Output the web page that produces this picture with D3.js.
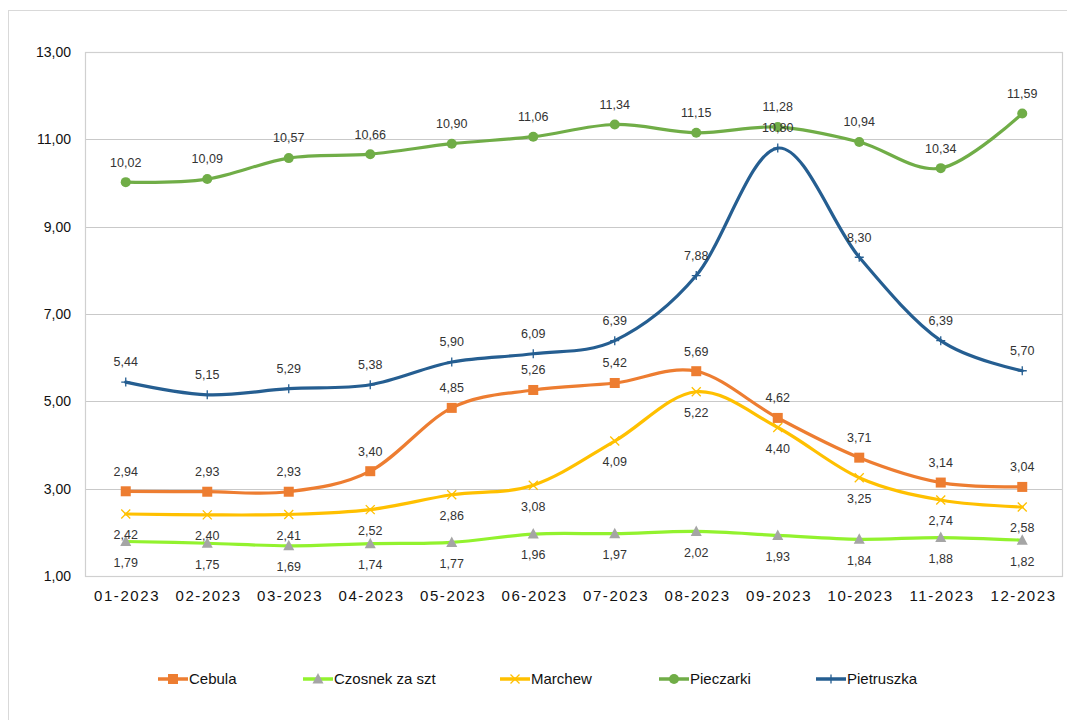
<!DOCTYPE html>
<html><head><meta charset="utf-8">
<script src="https://cdn.jsdelivr.net/npm/d3@7"></script>
<style>body{margin:0;background:#fff}svg{display:block}</style>
</head><body>
<svg id="c" width="1067" height="720"></svg>
<script>
const categories = ["01-2023","02-2023","03-2023","04-2023","05-2023","06-2023","07-2023","08-2023","09-2023","10-2023","11-2023","12-2023"];
const cebula = [2.94,2.93,2.93,3.40,4.85,5.26,5.42,5.69,4.62,3.71,3.14,3.04];
const czosnek = [1.79,1.75,1.69,1.74,1.77,1.96,1.97,2.02,1.93,1.84,1.88,1.82];
const marchew = [2.42,2.40,2.41,2.52,2.86,3.08,4.09,5.22,4.40,3.25,2.74,2.58];
const pieczarki = [10.02,10.09,10.57,10.66,10.90,11.06,11.34,11.15,11.28,10.94,10.34,11.59];
const pietruszka = [5.44,5.15,5.29,5.38,5.90,6.09,6.39,7.88,10.80,8.30,6.39,5.70];
const yTicks = [1,3,5,7,9,11,13];

const series = [
  {name:"Cebula", values:cebula, color:"#ED7D31", marker:"square", mcolor:"#ED7D31", label:"above"},
  {name:"Czosnek za szt", values:czosnek, color:"#92F22E", marker:"triangle", mcolor:"#A5A5A5", label:"below"},
  {name:"Marchew", values:marchew, color:"#FFC000", marker:"x", mcolor:"#FFC000", label:"below"},
  {name:"Pieczarki", values:pieczarki, color:"#70AD47", marker:"circle", mcolor:"#70AD47", label:"above"},
  {name:"Pietruszka", values:pietruszka, color:"#255E91", marker:"plus", mcolor:"#255E91", label:"above"}
];

const svg = d3.select("#c");
const L = 85, R = 1063, T = 52, B = 576;
const font = "'Liberation Sans', Arial, sans-serif";
const fmt = v => v.toFixed(2).replace(".", ",");

// outer chart border
svg.append("rect").attr("x",8.5).attr("y",10.5).attr("width",1080).attr("height",730)
  .attr("fill","none").attr("stroke","#d9d9d9").attr("stroke-width",1);

const x = d3.scalePoint().domain(categories).range([L, R]).padding(0.5);
const y = d3.scaleLinear().domain([1,13]).range([B, T]);

// gridlines
svg.append("g").selectAll("line").data(yTicks).join("line")
  .attr("x1",L).attr("x2",R).attr("y1",d=>Math.round(y(d))+0.5).attr("y2",d=>Math.round(y(d))+0.5)
  .attr("stroke","#c9c9c9").attr("stroke-width",1);
// plot border
svg.append("rect").attr("x",L+0.5).attr("y",T+0.5).attr("width",R-L-1).attr("height",B-T)
  .attr("fill","none").attr("stroke","#d0d0d0").attr("stroke-width",1.2);

// y axis
const yAxis = d3.axisLeft(y).tickValues(yTicks).tickFormat(fmt).tickSize(0).tickPadding(14);
const gy = svg.append("g").attr("transform",`translate(${L},0)`).call(yAxis);
gy.select(".domain").remove();
gy.selectAll("text").attr("font-family",font).attr("font-size",14).attr("fill","#111");

// x axis
const xAxis = d3.axisBottom(x).tickSize(0).tickPadding(14);
const gx = svg.append("g").attr("transform",`translate(0,${B})`).call(xAxis);
gx.select(".domain").remove();
gx.selectAll("text").attr("font-family",font).attr("font-size",15).attr("fill","#111")
  .attr("letter-spacing","1.6px").attr("dx","0.8px");

const line = d3.line().x((d,i)=>x(categories[i])).y(d=>y(d)).curve(d3.curveCardinal.tension(0));

function drawMarker(g, type, cx, cy, col){
  if(type==="square"){
    g.append("rect").attr("x",cx-5).attr("y",cy-5).attr("width",10).attr("height",10).attr("fill",col);
  } else if(type==="circle"){
    g.append("circle").attr("cx",cx).attr("cy",cy).attr("r",5).attr("fill",col);
  } else if(type==="triangle"){
    g.append("path").attr("d",`M${cx},${cy-6}L${cx+5.5},${cy+4.5}L${cx-5.5},${cy+4.5}Z`).attr("fill",col);
  } else if(type==="x"){
    g.append("path").attr("d",`M${cx-4.5},${cy-4.5}L${cx+4.5},${cy+4.5}M${cx-4.5},${cy+4.5}L${cx+4.5},${cy-4.5}`)
      .attr("stroke",col).attr("stroke-width",1.3).attr("fill","none");
  } else if(type==="plus"){
    g.append("path").attr("d",`M${cx-4.5},${cy}L${cx+4.5},${cy}M${cx},${cy-4.5}L${cx},${cy+4.5}`)
      .attr("stroke",col).attr("stroke-width",1.3).attr("fill","none");
  }
}

const order = [1,2,0,4,3];
order.forEach(si=>{
  const s = series[si];
  const g = svg.append("g");
  g.append("path").datum(s.values).attr("d",line).attr("fill","none")
    .attr("stroke",s.color).attr("stroke-width",3.2).attr("stroke-linecap","round");
  s.values.forEach((v,i)=>drawMarker(g, s.marker, x(categories[i]), y(v), s.mcolor));
});

// data labels
series.forEach(s=>{
  svg.append("g").selectAll("text").data(s.values).join("text")
    .attr("x",(d,i)=>x(categories[i]))
    .attr("y",d=>y(d) + (s.label==="above" ? -20 : 21))
    .attr("dy","0.35em")
    .attr("text-anchor","middle").attr("font-family",font).attr("font-size",12.5).attr("fill","#333")
    .text(fmt);
});

// legend
const legX = [158, 303, 500, 659, 816];
const legY = 679;
series.forEach((s,i)=>{
  const g = svg.append("g");
  g.append("line").attr("x1",legX[i]).attr("x2",legX[i]+30).attr("y1",legY).attr("y2",legY)
    .attr("stroke",s.color).attr("stroke-width",3.5);
  drawMarker(g, s.marker, legX[i]+15, legY, s.mcolor);
  g.append("text").attr("x",legX[i]+31).attr("y",legY).attr("dy","0.35em")
    .attr("font-family",font).attr("font-size",15).attr("fill","#111").text(s.name);
});
</script>
</body></html>
